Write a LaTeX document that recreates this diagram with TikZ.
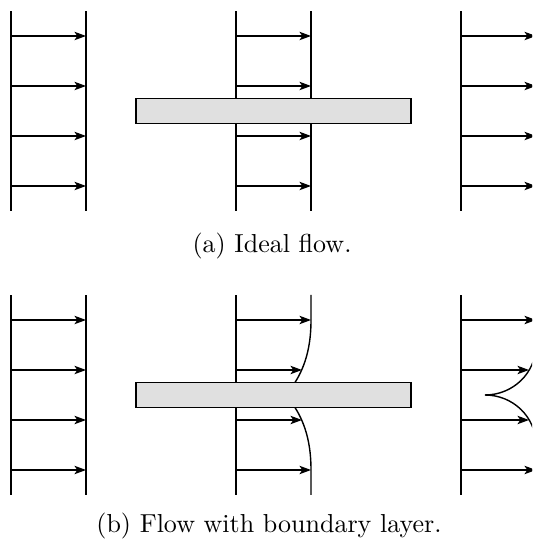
\documentclass[tikz,border=0pt]{standalone}
\usetikzlibrary{arrows.meta}
\begin{document}
\begin{tikzpicture}[
  wall/.style={line width=0.9pt},
  flow/.style={line width=0.6pt, -{Stealth[length=6.6pt,width=4.8pt,inset=1.7pt]}},
  plate/.style={draw, line width=0.6pt, fill=black!12},
  layer/.style={line width=0.8pt},
  captext/.style={font=\normalsize, scale=1.48, anchor=base, inner sep=0pt}
]
\useasboundingbox (0,0) rectangle (10.64,10.86);
\clip (0,0) rectangle (10.64,10.86);

% ---------- (a) Ideal flow ----------
\begin{scope}[shift={(0.22,6.64)}]
  % left profile
  \draw[wall] (0,0) -- (0,4);
  \draw[wall] (1.5,0) -- (1.5,4);
  \foreach \y in {0.5,1.5,2.5,3.5} \draw[flow] (0,\y) -- (1.5,\y);
  % middle profile
  \draw[wall] (4.5,0) -- (4.5,4);
  \draw[wall] (6,0) -- (6,4);
  \foreach \y in {0.5,1.5,2.5,3.5} \draw[flow] (4.5,\y) -- (6,\y);
  \draw[plate] (2.5,1.75) rectangle (8,2.25);
  % right profile
  \draw[wall] (9,0) -- (9,4);
  \foreach \y in {0.5,1.5,2.5,3.5} \draw[flow] (9,\y) -- (10.5,\y);
\end{scope}
\node[captext] (capa) at (5.44,5.8) {(a) Ideal flow.};

% ---------- (b) Flow with boundary layer ----------
\begin{scope}[shift={(0.22,0.96)}]
  % left profile
  \draw[wall] (0,0) -- (0,4);
  \draw[wall] (1.5,0) -- (1.5,4);
  \foreach \y in {0.5,1.5,2.5,3.5} \draw[flow] (0,\y) -- (1.5,\y);
  % middle profile with boundary layer
  \draw[wall] (4.5,0) -- (4.5,4);
  \draw[layer] (6,4) -- (6,3.5) .. controls (6,3.0) and (5.9,2.6) .. (5.68,2.25);
  \draw[layer] (5.68,1.75) .. controls (5.9,1.4) and (6,1.0) .. (6,0.5) -- (6,0);
  \draw[flow] (4.5,3.5) -- (6,3.5);
  \draw[flow] (4.5,0.5) -- (6,0.5);
  \draw[flow] (4.5,2.5) -- (5.82,2.5);
  \draw[flow] (4.5,1.5) -- (5.82,1.5);
  \draw[plate] (2.5,1.75) rectangle (8,2.25);
  % right profile with wake
  \draw[wall] (9,0) -- (9,4);
  \coordinate (cusp) at (9.48,2);
  \draw[layer] (cusp) .. controls (10.04,2) and (10.5,2.44) .. (10.5,3);
  \draw[layer] (cusp) .. controls (10.04,2) and (10.5,1.56) .. (10.5,1);
  \draw[flow] (9,3.5) -- (10.5,3.5);
  \draw[flow] (9,0.5) -- (10.5,0.5);
  \draw[flow] (9,2.5) -- (10.36,2.5);
  \draw[flow] (9,1.5) -- (10.36,1.5);
\end{scope}
\node[captext] (capb) at (5.38,0.2) {(b) Flow with boundary layer.};
\end{tikzpicture}
\end{document}
